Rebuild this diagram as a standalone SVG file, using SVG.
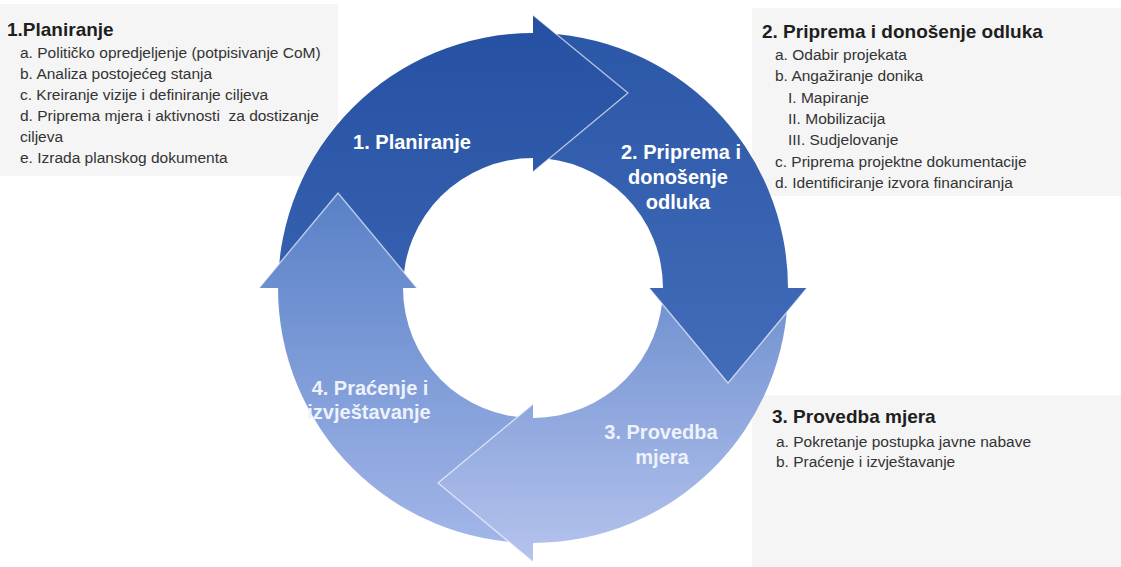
<svg xmlns="http://www.w3.org/2000/svg" width="1121" height="567" viewBox="0 0 1121 567">
  <defs>
    <linearGradient id="g1" gradientUnits="userSpaceOnUse" x1="0" y1="20" x2="0" y2="300">
      <stop offset="0" stop-color="#2651a3"/>
      <stop offset="1" stop-color="#3762b0"/>
    </linearGradient>
    <linearGradient id="g2" gradientUnits="userSpaceOnUse" x1="0" y1="30" x2="0" y2="390">
      <stop offset="0" stop-color="#2b57a7"/>
      <stop offset="1" stop-color="#436dba"/>
    </linearGradient>
    <linearGradient id="g3" gradientUnits="userSpaceOnUse" x1="0" y1="288" x2="0" y2="560">
      <stop offset="0" stop-color="#6f90d0"/>
      <stop offset="1" stop-color="#b5c3ed"/>
    </linearGradient>
    <linearGradient id="g4" gradientUnits="userSpaceOnUse" x1="0" y1="190" x2="0" y2="545">
      <stop offset="0" stop-color="#5880c6"/>
      <stop offset="1" stop-color="#a2b6e8"/>
    </linearGradient>
  </defs>
  <style>
    .ttl { font-family: "Liberation Sans", Arial, sans-serif; font-weight: bold; font-size: 19px; fill: #1e1e1e; }
    .itm { font-family: "Liberation Sans", Arial, sans-serif; font-size: 15.5px; fill: #333333; }
    .lbl { font-family: "Liberation Sans", Arial, sans-serif; font-weight: bold; font-size: 20px; fill: #ffffff; text-anchor: middle; }
    .lbl2 { fill: #eef2fc; }
    .edge { fill: none; stroke: #ffffff; stroke-opacity: 0.65; stroke-width: 1.3; stroke-linejoin: round; }
    .box { fill: #f5f5f5; }
  </style>
  <rect x="0" y="0" width="1121" height="567" fill="#ffffff"/>

  <g id="node-planiranje-text">
    <rect class="box" x="0" y="4" width="338" height="172"/>
    <text class="ttl" x="7" y="36">1.Planiranje</text>
    <text class="itm" x="20" y="58">a. Političko opredjeljenje (potpisivanje CoM)</text>
    <text class="itm" x="20" y="79">b. Analiza postojećeg stanja</text>
    <text class="itm" x="20" y="100">c. Kreiranje vizije i definiranje ciljeva</text>
    <text class="itm" x="20" y="121" xml:space="preserve">d. Priprema mjera i aktivnosti  za dostizanje</text>
    <text class="itm" x="20" y="142">ciljeva</text>
    <text class="itm" x="20" y="163">e. Izrada planskog dokumenta</text>
  </g>

  <g id="node-priprema-text">
    <rect class="box" x="752" y="8" width="369" height="188"/>
    <text class="ttl" x="762" y="38">2. Priprema i donošenje odluka</text>
    <text class="itm" x="775" y="60">a. Odabir projekata</text>
    <text class="itm" x="775" y="81">b. Angažiranje donika</text>
    <text class="itm" x="788" y="103">I. Mapiranje</text>
    <text class="itm" x="788" y="124">II. Mobilizacija</text>
    <text class="itm" x="788" y="145">III. Sudjelovanje</text>
    <text class="itm" x="775" y="167">c. Priprema projektne dokumentacije</text>
    <text class="itm" x="775" y="188">d. Identificiranje izvora financiranja</text>
  </g>

  <g id="node-provedba-text">
    <rect class="box" x="752" y="395" width="369" height="172"/>
    <text class="ttl" x="772" y="423">3. Provedba mjera</text>
    <text class="itm" x="776" y="447">a. Pokretanje postupka javne nabave</text>
    <text class="itm" x="776" y="467">b. Praćenje i izvještavanje</text>
  </g>

  <g id="node-1-planiranje">
    <path d="M278,288 A255,255 0 0 1 533,33 L533,158 A130,130 0 0 0 403,288 Z" fill="url(#g1)"/>
  </g>
  <g id="node-2-priprema">
    <path d="M533,33 A255,255 0 0 1 788,288 L663,288 A130,130 0 0 0 533,158 Z" fill="url(#g2)"/>
  </g>
  <g id="node-3-provedba">
    <path d="M788,288 A255,255 0 0 1 533,543 L533,418 A130,130 0 0 0 663,288 Z" fill="url(#g3)"/>
  </g>
  <g id="node-4-pracenje">
    <path d="M533,543 A255,255 0 0 1 278,288 L403,288 A130,130 0 0 0 533,418 Z" fill="url(#g4)"/>
  </g>

  <g id="connectors">
    <polygon points="533,15 628,93 533,172" fill="url(#g1)"/>
    <polyline class="edge" points="533,15 628,93 533,172"/>
    <polygon points="807,288 728,383 649,288" fill="url(#g2)"/>
    <polyline class="edge" points="807,288 728,383 649,288"/>
    <polygon points="533,562 438,483 533,404" fill="url(#g3)"/>
    <polyline class="edge" points="533,562 438,483 533,404"/>
    <polygon points="259,288 338,193 417,288" fill="url(#g4)"/>
    <polyline class="edge" points="259,288 338,193 417,288"/>
  </g>

  <g id="labels">
    <text class="lbl" x="412" y="149">1. Planiranje</text>
    <text class="lbl" x="681" y="159">2. Priprema i</text>
    <text class="lbl" x="678" y="184">donošenje</text>
    <text class="lbl" x="678" y="209">odluka</text>
    <text class="lbl lbl2" x="661" y="439">3. Provedba</text>
    <text class="lbl lbl2" x="662" y="464">mjera</text>
    <text class="lbl lbl2" x="370" y="395">4. Praćenje i</text>
    <text class="lbl lbl2" x="369" y="419">izvještavanje</text>
  </g>
</svg>
